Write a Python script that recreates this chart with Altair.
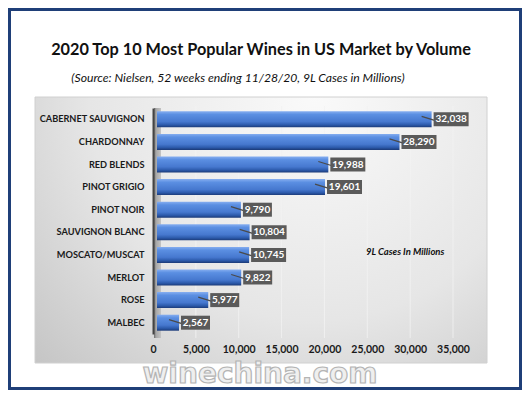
import altair as alt
import pandas as pd

categories = ["CABERNET SAUVIGNON", "CHARDONNAY", "RED BLENDS", "PINOT GRIGIO", "PINOT NOIR",
              "SAUVIGNON BLANC", "MOSCATO/MUSCAT", "MERLOT", "ROSE", "MALBEC"]
values = [32038, 28290, 19988, 19601, 9790, 10804, 10745, 9822, 5977, 2567]
x_ticks = [0, 5000, 10000, 15000, 20000, 25000, 30000, 35000]

title_text = "2020 Top 10 Most Popular Wines in US Market by Volume"
subtitle_text = "(Source: Nielsen, 52 weeks ending 11/28/20, 9L Cases in Millions)"
note_text = "9L Cases In Millions"
watermark_text = "winechina.com"

df = pd.DataFrame({"cat": categories, "value": values})
grid_df = pd.DataFrame({"g": x_ticks[1:]})
one = pd.DataFrame({"a": [0]})

FONT = "Lato"
W, H = 300, 226
BAR_SHIFT = 4

xscale = alt.Scale(domain=[0, 35000], nice=False)
yscale = alt.Scale(domain=categories, paddingInner=0.28, paddingOuter=0.14)

# chrome: frame, gradient panel, left wall
frame = alt.Chart(one).mark_rect(fill="white", stroke="#1f3f78", strokeWidth=3).encode(
    x=alt.value(-143.5), x2=alt.value(367.5), y=alt.value(-98.5), y2=alt.value(280.5))

panel = alt.Chart(one).mark_rect(
    color=alt.RadialGradient(
        gradient="radial", x1=0.62, y1=0.2, r1=0, x2=0.62, y2=0.2, r2=1.0,
        stops=[alt.GradientStop(color="#fafafa", offset=0),
               alt.GradientStop(color="#e6e6e6", offset=0.5),
               alt.GradientStop(color="#b8b8b8", offset=1)]),
    stroke="#d0d0d0", strokeWidth=1).encode(
    x=alt.value(-118), x2=alt.value(334), y=alt.value(-11), y2=alt.value(255))

wall = alt.Chart(one).mark_rect(
    color=alt.Gradient(gradient="linear", x1=0, x2=1, y1=0, y2=0,
                       stops=[alt.GradientStop(color="#6e6e6e", offset=0),
                              alt.GradientStop(color="#a8a8a8", offset=0.3),
                              alt.GradientStop(color="#c4c4c4", offset=1)])).encode(
    x=alt.value(1), x2=alt.value(8), y=alt.value(0), y2=alt.value(H + 4))

grid = alt.Chart(grid_df).mark_rule(color="#f2f2f2", strokeWidth=1, opacity=0.8).encode(
    x=alt.X("g:Q", scale=xscale), y=alt.value(-2), y2=alt.value(H + 4))

bars = alt.Chart(df).mark_bar(
    xOffset=BAR_SHIFT, x2Offset=BAR_SHIFT, size=16,
    color=alt.Gradient(gradient="linear", x1=0, x2=0, y1=0, y2=1,
                       stops=[alt.GradientStop(color="#86aef0", offset=0),
                              alt.GradientStop(color="#5b8fe2", offset=0.2),
                              alt.GradientStop(color="#4678cf", offset=0.65),
                              alt.GradientStop(color="#2c5aab", offset=0.85),
                              alt.GradientStop(color="#1b3a78", offset=1)])).encode(
    x=alt.X("value:Q", scale=xscale,
            axis=alt.Axis(values=x_ticks, format=",d", title=None, grid=False, domain=False,
                          ticks=False, labelFont=FONT, labelFontSize=10.5, labelFontWeight="bold",
                          labelColor="#1a1a1a", labelPadding=10, labelOverlap=False,
                          labelFlush=False, labelBound=False, zindex=1)),
    y=alt.Y("cat:N", scale=yscale, sort=categories,
            axis=alt.Axis(title=None, ticks=False, domain=True, domainColor="#444444",
                          domainWidth=2, labelFont=FONT, labelFontSize=9.2,
                          labelFontWeight="bold", labelColor="#1a1a1a", labelPadding=9,
                          zindex=1)))

callout = alt.Chart(df).mark_rule(color="#4a4a4a", strokeWidth=1.3,
                                  xOffset=BAR_SHIFT - 10, x2Offset=BAR_SHIFT + 3,
                                  yOffset=-3, y2Offset=1).encode(
    x="value:Q", x2="value:Q", y=alt.Y("cat:N", sort=categories), y2="cat:N")


def label_layers(data_filter, box_w):
    center = BAR_SHIFT + 2 + box_w / 2
    base = alt.Chart(df).transform_filter(data_filter)
    box = base.mark_tick(orient="vertical", thickness=box_w, size=14, color="#5a5a5a",
                         opacity=1, xOffset=center).encode(
        x="value:Q", y=alt.Y("cat:N", sort=categories))
    txt = base.mark_text(font=FONT, fontSize=10, fontWeight="bold", color="white",
                         align="center", baseline="middle", dx=center).encode(
        x="value:Q", y=alt.Y("cat:N", sort=categories), text=alt.Text("value:Q", format=",d"))
    return [box, txt]


labels_big = label_layers(alt.datum.value >= 10000, 35)
labels_small = label_layers(alt.datum.value < 10000, 29)

title = alt.Chart(one).mark_text(text=title_text, font=FONT, fontSize=16.3, fontWeight="bold",
                                 color="#111111", align="center", baseline="middle").encode(
    x=alt.value(108), y=alt.value(-58))
subtitle = alt.Chart(one).mark_text(text=subtitle_text, font=FONT, fontSize=12.2,
                                    fontStyle="italic", color="#111111", align="center",
                                    baseline="middle").encode(
    x=alt.value(85), y=alt.value(-30))
note = alt.Chart(one).mark_text(text=note_text, font=FONT, fontSize=9.5, fontStyle="italic",
                                fontWeight="bold", color="#111111", align="left",
                                baseline="middle").encode(
    x=alt.value(213), y=alt.value(144))
watermark = alt.Chart(one).mark_text(text=watermark_text, font="DejaVu Sans", fontSize=28,
                                     fontWeight="bold", fill="#efefef", stroke="#b4b4b4",
                                     strokeWidth=1.2, align="center", baseline="middle").encode(
    x=alt.value(107), y=alt.value(267))

chart = alt.layer(frame, panel, wall, grid, bars, callout, *labels_big, *labels_small,
                  title, subtitle, note, watermark).properties(
    width=W, height=H,
    autosize=alt.AutoSizeParams(type="none"),
    padding={"left": 145, "top": 100, "right": 69, "bottom": 56},
    background="white",
).configure_view(stroke=None)

chart.save("out.html", embed_options={"renderer": "svg", "actions": False})
